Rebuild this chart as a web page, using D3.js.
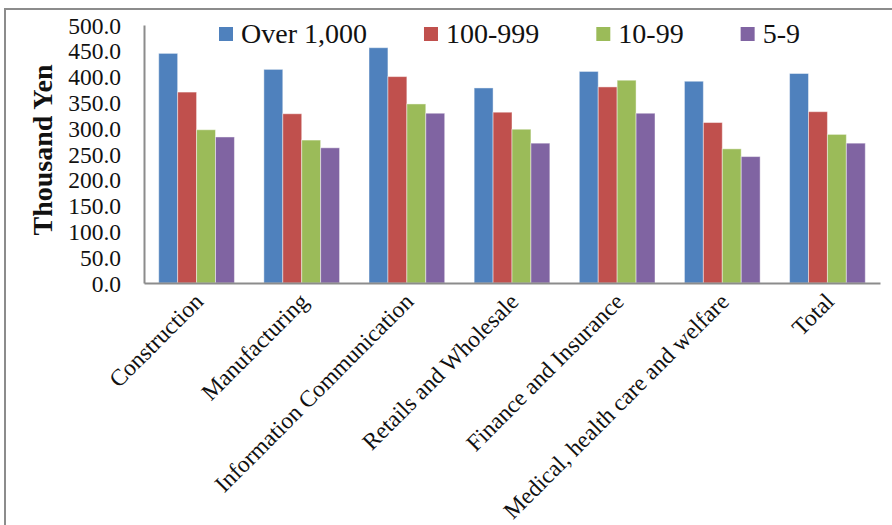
<!DOCTYPE html>
<html lang="en">
  <head>
    <meta charset="utf-8">
    <title>Thousand Yen by industry and firm size</title>
    <style>
      body {
        margin: 0;
        background: #fff;
      }
      svg text {
        font-family: "Liberation Serif", "Times New Roman", serif;
        fill: #111;
      }
    </style>
  </head>
  <body>
    <svg width="892" height="525"></svg>
    <script src="https://d3js.org/d3.v7.min.js"></script>
    <script>
      const categories = ["Construction", "Manufacturing", "Information Communication",
        "Retails and Wholesale", "Finance and Insurance",
        "Medical, health care and welfare", "Total"];
      const seriesNames = ["Over 1,000", "100-999", "10-99", "5-9"];
      const over1000 = [445, 414, 456, 378, 410, 391, 406];
      const from100 = [370, 328, 400, 331, 380, 311, 332];
      const from10 = [297, 277, 347, 298, 393, 260, 288];
      const from5 = [283, 262, 329, 271, 329, 245, 271];
      const yTicks = [0, 50, 100, 150, 200, 250, 300, 350, 400, 450, 500];

      const colors = ["#4F81BD", "#C0504D", "#9BBB59", "#8064A2"];
      const values = [over1000, from100, from10, from5];

      const svg = d3.select("svg");
      const plotLeft = 144, plotRight = 880, plotTop = 25, plotBottom = 283;

      // outer chart frame (right/bottom edges are cut off in the original)
      svg.append("path")
        .attr("d", "M5,525 L5,9 L892,9")
        .attr("fill", "none")
        .attr("stroke", "#8c8c8c")
        .attr("stroke-width", 2);

      const x0 = d3.scaleBand().domain(categories).range([plotLeft, plotRight]).paddingInner(0.28).paddingOuter(0.14);
      const x1 = d3.scaleBand().domain(seriesNames).range([0, x0.bandwidth()]);
      const y = d3.scaleLinear().domain([0, 500]).range([plotBottom, plotTop]);

      // bars
      const groups = svg.append("g")
        .selectAll("g")
        .data(categories)
        .join("g")
          .attr("transform", d => `translate(${x0(d)},0)`);

      groups.selectAll("rect")
        .data((c, i) => seriesNames.map((s, j) => ({ s: s, v: values[j][i], c: colors[j] })))
        .join("rect")
          .attr("x", d => x1(d.s))
          .attr("y", d => y(d.v))
          .attr("width", x1.bandwidth())
          .attr("height", d => y(0) - y(d.v))
          .attr("fill", d => d.c)
          .attr("stroke", "#fff")
          .attr("stroke-opacity", 0.45)
          .attr("stroke-width", 1);

      // y axis
      const yAxis = svg.append("g")
        .attr("transform", `translate(${plotLeft},0)`)
        .call(d3.axisLeft(y).tickValues(yTicks).tickFormat(d3.format(".1f")).tickSize(0).tickPadding(23));
      yAxis.attr("font-family", null);
      yAxis.select(".domain").attr("stroke", "#8c8c8c").attr("stroke-width", 2);
      yAxis.selectAll("text")
        .attr("font-size", 23.5)
        .attr("dy", "0.34em");

      // x axis
      const xAxis = svg.append("g")
        .attr("transform", `translate(0,${plotBottom})`)
        .call(d3.axisBottom(x0).tickSize(0).tickFormat(""));
      xAxis.select(".domain").attr("stroke", "#8c8c8c").attr("stroke-width", 2);

      svg.append("g")
        .selectAll("text")
        .data(categories)
        .join("text")
          .attr("transform", d => `translate(${x0(d) + x0.bandwidth() / 2 + 8},${plotBottom + 20}) rotate(-45)`)
          .attr("text-anchor", "end")
          .attr("font-size", 23.5)
          .text(d => d);

      // y axis title
      svg.append("text")
        .attr("transform", "translate(52,150) rotate(-90)")
        .attr("text-anchor", "middle")
        .attr("font-size", 28)
        .attr("font-weight", "bold")
        .text("Thousand Yen");

      // legend
      const legend = svg.append("g").attr("transform", "translate(219,0)");
      let lx = 0;
      seriesNames.forEach((s, i) => {
        const item = legend.append("g").attr("transform", `translate(${lx},0)`);
        item.append("rect")
          .attr("x", 0).attr("y", 27)
          .attr("width", 14).attr("height", 14)
          .attr("fill", colors[i]);
        const t = item.append("text")
          .attr("x", 22).attr("y", 43)
          .attr("font-size", 28)
          .text(s);
        lx += 22 + t.node().getComputedTextLength() + 57;
      });
    </script>
  </body>
</html>
